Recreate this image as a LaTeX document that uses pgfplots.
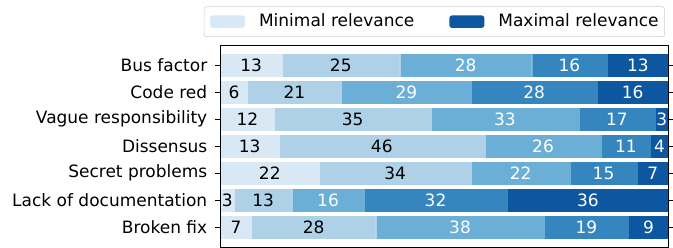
\documentclass[border=0pt]{standalone}
\usepackage{fontspec}
\setmainfont{DejaVu Sans}
\usepackage{pgfplots}
\usepackage{pgfplotstable}
\pgfplotsset{compat=1.18}
\definecolor{b1}{RGB}{217,232,245}
\definecolor{b2}{RGB}{174,209,231}
\definecolor{b3}{RGB}{107,174,214}
\definecolor{b4}{RGB}{53,133,191}
\definecolor{b5}{RGB}{13,87,161}
\pgfplotstableread{
y n1 n2 n3 n4 n5 w1 w2 w3 w4 w5
6 13 25 28 16 13 13.684 26.316 29.474 16.842 13.684
5 6 21 29 28 16 6 21 29 28 16
4 12 35 33 17 3 12 35 33 17 3
3 13 46 26 11 4 13 46 26 11 4
2 22 34 22 15 7 22 34 22 15 7
1 3 13 16 32 36 3 13 16 32 36
0 7 28 38 19 9 6.931 27.723 37.624 18.812 8.910
}\datatable
\pgfplotsset{
  common/.style={
    at={(0,0)}, anchor=south west,
    scale only axis,
    width=336pt, height=151.5pt,
    xmin=0, xmax=100,
    ymin=-0.74, ymax=6.74,
  },
  lab/.style={draw=none, mark=none, point meta=explicit symbolic, nodes near coords,
    every node near coord/.append style={anchor=center, inner sep=0pt, font=\fontsize{12.75}{15}\selectfont, text=#1}},
  seg/.style={fill=#1, draw=#1, line width=0.25pt},
}
\begin{document}
\fontsize{12.75}{15}\selectfont
\begin{tikzpicture}
\begin{axis}[
  common,
  xbar stacked,
  bar width=0.8,
  xtick=\empty,
  ytick={0,1,2,3,4,5,6},
  yticklabels={Broken fix, Lack of documentation, Secret problems, Dissensus, Vague responsibility, Code red, Bus factor},
  tick align=outside,
  major tick length=4pt,
  ytick style={line width=0.6pt, black},
  axis line style={line width=0.6pt, black},
  axis on top,
  y tick label style={font=\fontsize{12.75}{15}\selectfont, xshift=-1.5pt},
  legend columns=2,
  legend style={at={(0.992,1)}, anchor=south east, yshift=6pt,
    draw=black!20, rounded corners=2pt, inner xsep=4.5pt, inner ysep=3.5pt,
    font=\fontsize{12.75}{15}\selectfont,
    nodes={inner xsep=0pt},
    /tikz/every odd column/.append style={column sep=10.5pt},
    /tikz/every even column/.append style={column sep=26.25pt}},
  legend image code/.code={\fill[#1] (0pt,-4.7pt) rectangle (26.25pt,4.7pt);},
  legend entries={Minimal relevance, Maximal relevance},
]
\addlegendimage{fill=b1, draw=none}
\addlegendimage{fill=b5, draw=none}
\addplot[seg=b1] table[x=w1, y=y] {\datatable};
\addplot[seg=b2] table[x=w2, y=y] {\datatable};
\addplot[seg=b3] table[x=w3, y=y] {\datatable};
\addplot[seg=b4] table[x=w4, y=y] {\datatable};
\addplot[seg=b5] table[x=w5, y=y] {\datatable};
\end{axis}
\begin{axis}[common, hide axis]
\addplot[lab=black] table[x expr=\thisrow{w1}/2, y=y, meta=n1] {\datatable};
\addplot[lab=black] table[x expr=\thisrow{w1}+\thisrow{w2}/2, y=y, meta=n2] {\datatable};
\addplot[lab=white] table[x expr=\thisrow{w1}+\thisrow{w2}+\thisrow{w3}/2, y=y, meta=n3] {\datatable};
\addplot[lab=white] table[x expr=\thisrow{w1}+\thisrow{w2}+\thisrow{w3}+\thisrow{w4}/2, y=y, meta=n4] {\datatable};
\addplot[lab=white] table[x expr=\thisrow{w1}+\thisrow{w2}+\thisrow{w3}+\thisrow{w4}+\thisrow{w5}/2, y=y, meta=n5] {\datatable};
\end{axis}
\pgfresetboundingbox
\path (-165.4pt,-0.75pt) rectangle (339.4pt,185.25pt);
\end{tikzpicture}
\end{document}
